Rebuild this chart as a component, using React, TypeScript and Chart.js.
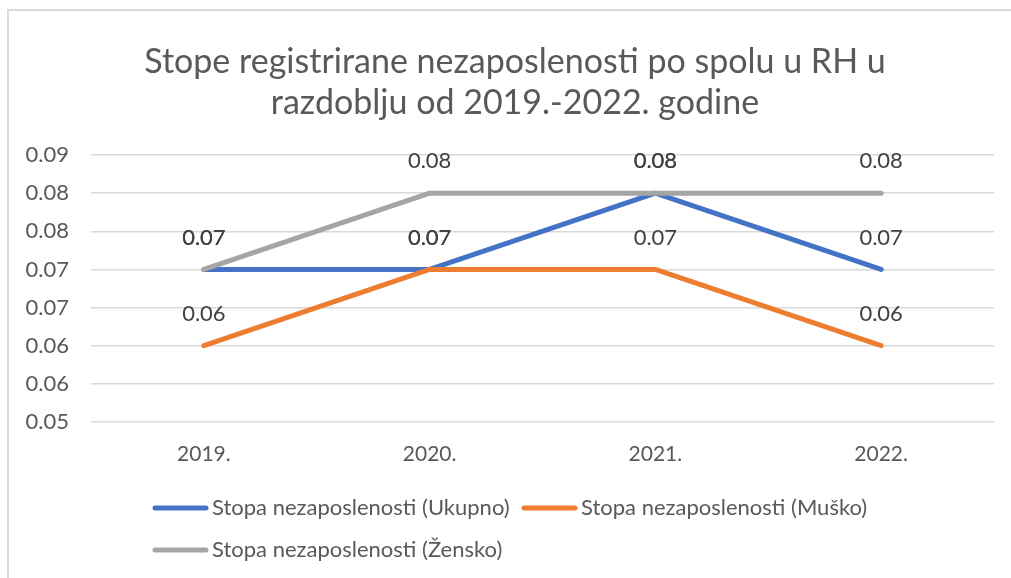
import React, { useEffect, useRef } from "react";
import { Chart, registerables } from "chart.js";

Chart.register(...registerables);

const categories = ["2019.", "2020.", "2021.", "2022."];
const ukupno = [0.07, 0.07, 0.08, 0.07];
const musko = [0.06, 0.07, 0.07, 0.06];
const zensko = [0.07, 0.08, 0.08, 0.08];
const seriesNames = [
  "Stopa nezaposlenosti (Ukupno)",
  "Stopa nezaposlenosti (Muško)",
  "Stopa nezaposlenosti (Žensko)",
];
const titleLines = [
  "Stope registrirane nezaposlenosti po spolu u RH u",
  "razdoblju od 2019.-2022. godine",
];
const colors = ["#4472C4", "#ED7D31", "#A5A5A5"];
const FONT = "Lato, 'Open Sans', sans-serif";

function fmt(v: number): string {
  return (Math.round(v * 100 + 1e-7) / 100).toFixed(2);
}

export default function App() {
  const ref = useRef<HTMLCanvasElement | null>(null);
  useEffect(() => {
    if (!ref.current) return;
    const decor = {
      id: "decor",
      beforeDraw(chart: any) {
        const ctx = chart.ctx;
        ctx.save();
        ctx.fillStyle = "#ffffff";
        ctx.fillRect(0, 0, chart.width, chart.height);
        ctx.strokeStyle = "#d9d9d9";
        ctx.lineWidth = 2;
        ctx.beginPath();
        ctx.moveTo(8, chart.height);
        ctx.lineTo(8, 10);
        ctx.lineTo(chart.width, 10);
        ctx.stroke();
        // title
        ctx.fillStyle = "#595959";
        ctx.font = `34px ${FONT}`;
        ctx.textAlign = "center";
        ctx.textBaseline = "middle";
        ctx.fillText(titleLines[0], 515, 62);
        ctx.fillText(titleLines[1], 515, 103);
        ctx.restore();
      },
      afterDatasetsDraw(chart: any) {
        const ctx = chart.ctx;
        ctx.save();
        ctx.fillStyle = "#404040";
        ctx.font = `22px ${FONT}`;
        ctx.textAlign = "center";
        ctx.textBaseline = "middle";
        chart.data.datasets.forEach((ds: any, di: number) => {
          const meta = chart.getDatasetMeta(di);
          meta.data.forEach((pt: any, i: number) => {
            ctx.fillText(fmt(ds.data[i]), pt.x, pt.y - 32);
          });
        });
        // legend
        const items = [
          { x: 153, y: 508 },
          { x: 522, y: 508 },
          { x: 153, y: 550 },
        ];
        ctx.font = `22px ${FONT}`;
        ctx.textAlign = "left";
        items.forEach((it, k) => {
          ctx.strokeStyle = colors[k];
          ctx.lineWidth = 5;
          ctx.lineCap = "round";
          ctx.beginPath();
          ctx.moveTo(it.x + 2, it.y);
          ctx.lineTo(it.x + 53, it.y);
          ctx.stroke();
          ctx.fillStyle = "#595959";
          ctx.fillText(seriesNames[k], it.x + 59, it.y);
        });
        ctx.restore();
      },
    };
    const mk = (label: string, data: number[], color: string, order: number) => ({
      label,
      data,
      borderColor: color,
      backgroundColor: color,
      borderWidth: 5,
      borderCapStyle: "round" as const,
      borderJoinStyle: "round" as const,
      pointRadius: 0,
      tension: 0,
      order,
    });
    const chart = new Chart(ref.current, {
      type: "line",
      data: {
        labels: categories,
        datasets: [
          mk(seriesNames[0], ukupno, colors[0], 2),
          mk(seriesNames[1], musko, colors[1], 1),
          mk(seriesNames[2], zensko, colors[2], 0),
        ],
      },
      plugins: [decor],
      options: {
        responsive: false,
        animation: false,
        devicePixelRatio: 1,
        layout: { padding: { top: 155, right: 17, bottom: 96, left: 0 } },
        plugins: {
          legend: { display: false },
          title: { display: false },
          tooltip: { enabled: false },
        },
        scales: {
          x: {
            offset: true,
            grid: { display: false, drawTicks: false },
            border: { display: false },
            ticks: { color: "#595959", font: { family: FONT, size: 21 }, padding: 20 },
            afterFit(scale: any) {
              scale.height = 60;
            },
          },
          y: {
            min: 0.05,
            max: 0.085,
            grid: { color: "#d9d9d9", lineWidth: 1.5, drawTicks: false },
            border: { display: false },
            ticks: {
              stepSize: 0.005,
              color: "#595959",
              font: { family: FONT, size: 22 },
              padding: 22,
              callback: (v: any) => fmt(Number(v)),
            },
            afterFit(scale: any) {
              scale.width = 91;
            },
          },
        },
      },
    });
    return () => chart.destroy();
  }, []);
  return (
    <canvas
      ref={ref}
      width={1011}
      height={578}
      style={{ position: "absolute", left: 0, top: 0, width: 1011, height: 578 }}
    />
  );
}
